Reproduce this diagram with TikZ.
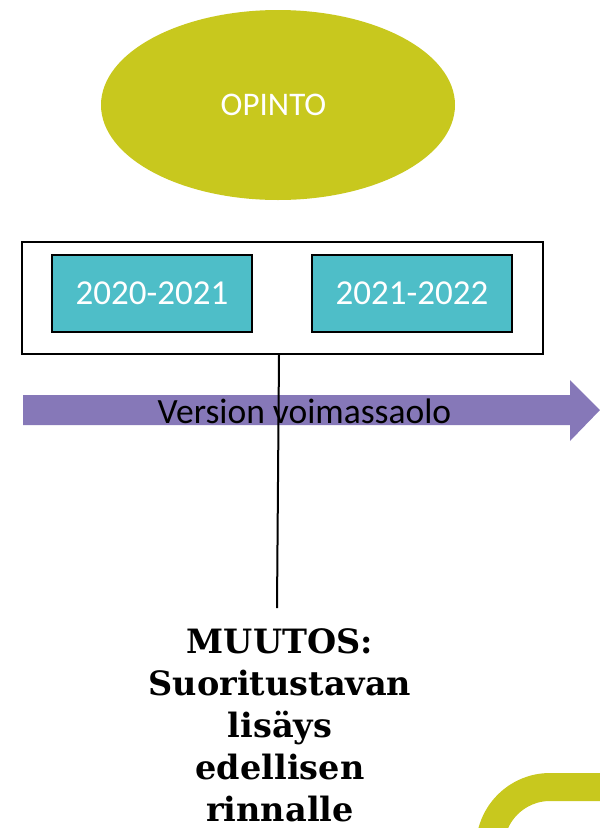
\documentclass[tikz,border=0pt]{standalone}
\usepackage{fontspec}
\setmainfont{Carlito}
\newfontfamily\chgfont{DejaVu Serif}
\usetikzlibrary{shapes.geometric}
\definecolor{myolive}{HTML}{C8C81E}
\definecolor{myteal}{HTML}{4EBEC8}
\definecolor{mypurple}{HTML}{8678B8}
\tikzset{
  yearbox/.style={draw=black, line width=2pt, fill=myteal, text=white, minimum width=200pt, minimum height=77pt, inner sep=0pt, font=\fontsize{35}{42}\selectfont},
  framebox/.style={draw=black, line width=2pt, minimum width=521pt, minimum height=112pt, inner sep=0pt},
  connector/.style={draw=black, line width=2pt}
}
\begin{document}
\begin{tikzpicture}[x=1pt,y=-1pt]
\useasboundingbox (0,0) rectangle (600,828);
% ellipse
\node[ellipse, fill=myolive, minimum width=354pt, minimum height=190pt, inner sep=0pt, text=white, font=\fontsize{33}{38}\selectfont] (opinto) at (278,105) {\hspace*{-9pt}OPINTO};
% frame and boxes
\node[framebox] (frame) at (282.5,298) {};
\node[yearbox] (y1) at (152,293.5) {2020-2021};
\node[yearbox] (y2) at (412,293.5) {2021-2022};
% arrow
\fill[mypurple] (23,395) -- (570,395) -- (570,380) -- (600,410) -- (570,441) -- (570,425) -- (23,425) -- cycle;
\node[anchor=base, inner sep=0pt, font=\fontsize{35.5}{40}\selectfont] (version) at (304.5,423) {Version voimassaolo};
% connector
\coordinate (lineend) at (277,608);
\draw[connector] ([xshift=-3.5pt]frame.south) -- (lineend);
% change text
\node[font=\chgfont\bfseries\fontsize{33.5}{42}\selectfont, align=center, inner sep=0pt] (muutos) at (280,725) {MUUTOS:\\Suoritustavan\\lisäys\\edellisen\\rinnalle};
% decorative arc
\begin{scope}
\clip (0,0) rectangle (600,828);
\draw[myolive, line width=28pt, rounded corners=60pt] (620,787) -- (490,787) -- (490,900);
\end{scope}
\end{tikzpicture}
\end{document}
